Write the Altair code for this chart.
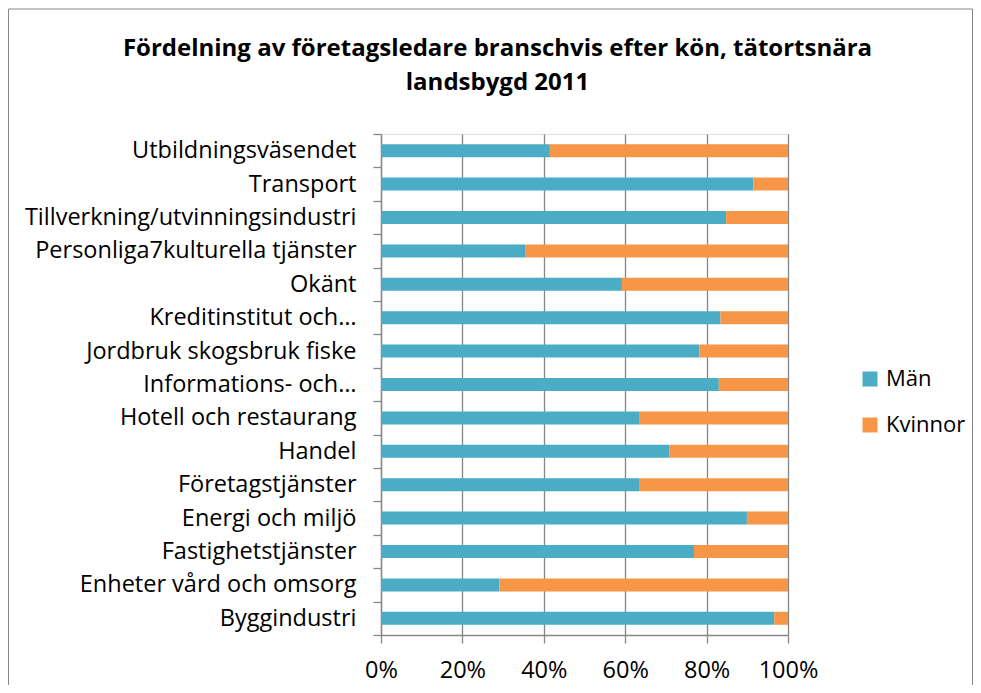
import altair as alt
import pandas as pd

branscher = [
    "Utbildningsväsendet",
    "Transport",
    "Tillverkning/utvinningsindustri",
    "Personliga7kulturella tjänster",
    "Okänt",
    "Kreditinstitut och…",
    "Jordbruk skogsbruk fiske",
    "Informations- och…",
    "Hotell och restaurang",
    "Handel",
    "Företagstjänster",
    "Energi och miljö",
    "Fastighetstjänster",
    "Enheter vård och omsorg",
    "Byggindustri",
]
man = [41.5, 91.5, 84.8, 35.4, 59.2, 83.4, 78.2, 83.0, 63.4, 70.8, 63.4, 89.9, 76.9, 29.1, 96.6]
kvinnor = [58.5, 8.5, 15.2, 64.6, 40.8, 16.6, 21.8, 17.0, 36.6, 29.2, 36.6, 10.1, 23.1, 70.9, 3.4]
kon = ["Män", "Kvinnor"]
farger = ["#4BACC6", "#F79646"]
ticks_x = [0, 0.2, 0.4, 0.6, 0.8, 1.0]

rows = []
for b, m, k in zip(branscher, man, kvinnor):
    rows.append({"Bransch": b, "Kön": "Män", "Andel": m, "ord": 0})
    rows.append({"Bransch": b, "Kön": "Kvinnor", "Andel": k, "ord": 1})
df = pd.DataFrame(rows)

FONT = "Open Sans"
GRAY = "#868686"
FS = 23.5

bars = alt.Chart(df).mark_bar(size=13).encode(
    y=alt.Y(
        "Bransch:N",
        sort=branscher,
        scale=alt.Scale(paddingInner=0, paddingOuter=0),
        axis=alt.Axis(
            title=None, tickBand="extent", tickSize=8, labelPadding=17,
            labelLimit=400, labelFontSize=FS, labelFont=FONT, labelColor="black",
            domainColor=GRAY, tickColor=GRAY, domainWidth=1.3, tickWidth=1.3, grid=False,
        ),
    ),
    x=alt.X(
        "Andel:Q",
        stack="normalize",
        scale=alt.Scale(domain=[0, 1]),
        axis=alt.Axis(
            title=None, format="%", values=ticks_x, grid=True, gridColor=GRAY,
            gridWidth=1.3, tickSize=8, tickColor=GRAY, tickWidth=1.3,
            domainColor=GRAY, domainWidth=1.3, labelPadding=15, labelFontSize=FS,
            labelFont=FONT, labelColor="black", labelFlush=False,
        ),
    ),
    color=alt.Color(
        "Kön:N",
        sort=kon,
        scale=alt.Scale(domain=kon, range=farger),
        legend=alt.Legend(
            title=None, orient="none", legendX=478, legendY=234,
            symbolType="square", symbolSize=225, symbolStrokeWidth=0,
            labelFont=FONT, labelFontSize=22, labelColor="black",
            labelOffset=5, rowPadding=24,
        ),
    ),
    order=alt.Order("ord:Q"),
)

border = alt.Chart(pd.DataFrame({"a": [0]})).mark_rect(
    filled=False, stroke=GRAY, strokeWidth=1, clip=False
).encode(
    x=alt.value(-372.5), x2=alt.value(591.5), y=alt.value(-125), y2=alt.value(600)
)

chart = alt.layer(bars, border).properties(
    width=407,
    height=501,
    padding={"left": 373, "top": 126, "right": 185, "bottom": 50},
    autosize=alt.AutoSizeParams(type="none"),
    title=alt.TitleParams(
        text=["Fördelning av företagsledare branschvis efter kön, tätortsnära", "landsbygd 2011"],
        font=FONT, fontSize=24, fontWeight="bold", color="black",
        anchor="middle", frame="group", dx=-87, offset=-86, lineHeight=34,
    ),
).configure_view(strokeWidth=0).configure(background="white")

chart.save("out.html", embed_options={"renderer": "svg", "actions": False})
